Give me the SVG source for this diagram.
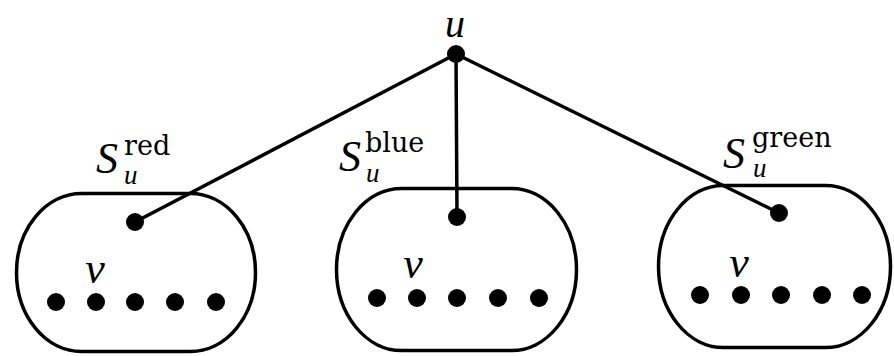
<svg xmlns="http://www.w3.org/2000/svg" width="894" height="356" viewBox="0 0 894 356">
<style>
.blob{fill:none;stroke:#000;stroke-width:3.5}
.edge{stroke:#000;stroke-width:3.5;fill:none}
.dot{fill:#000}
.m{font-family:'Liberation Serif','Times New Roman','DejaVu Serif',serif;font-style:italic;font-size:44px;fill:#000}
.top{font-size:40px}
.sup{font-family:'DejaVu Serif','Liberation Serif',serif;font-size:27px;fill:#000}
.sub{font-family:'Liberation Serif','Times New Roman','DejaVu Serif',serif;font-style:italic;font-size:27px;fill:#000}
</style>
<rect width="894" height="356" fill="#fff"/>
<g id="connectors">
<line class="edge" x1="456" y1="54" x2="135" y2="222"/>
<line class="edge" x1="456" y1="54" x2="457" y2="217"/>
<line class="edge" x1="456" y1="54" x2="779" y2="213"/>
</g>
<g id="root">
<circle class="dot" cx="456" cy="54" r="9"/>
<text class="m top" x="455" y="37" text-anchor="middle">u</text>
</g>
<g id="set-red">
<rect class="blob" x="16.5" y="193.5" width="239" height="158" rx="65" ry="79"/>
<circle class="dot" cx="135" cy="222" r="9"/>
<text class="m" x="95" y="283" text-anchor="middle">v</text>
<circle class="dot" cx="56" cy="302" r="9"/>
<circle class="dot" cx="96" cy="302" r="9"/>
<circle class="dot" cx="135" cy="302" r="9"/>
<circle class="dot" cx="175" cy="302" r="9"/>
<circle class="dot" cx="216" cy="302" r="9"/>
<text class="m" x="96" y="173">S</text>
<text class="sup" x="124" y="155">red</text>
<text class="sub" x="124" y="184">u</text>
</g>
<g id="set-blue">
<rect class="blob" x="336.5" y="188.5" width="240" height="162" rx="65" ry="81"/>
<circle class="dot" cx="457" cy="217" r="9"/>
<text class="m" x="413" y="278" text-anchor="middle">v</text>
<circle class="dot" cx="377" cy="298" r="9"/>
<circle class="dot" cx="417" cy="298" r="9"/>
<circle class="dot" cx="457" cy="298" r="9"/>
<circle class="dot" cx="498" cy="298" r="9"/>
<circle class="dot" cx="539" cy="298" r="9"/>
<text class="m" x="339" y="171">S</text>
<text class="sup" x="365" y="152">blue</text>
<text class="sub" x="366" y="182">u</text>
</g>
<g id="set-green">
<rect class="blob" x="658.5" y="185.5" width="232" height="162" rx="65" ry="81"/>
<circle class="dot" cx="779" cy="213" r="9"/>
<text class="m" x="739" y="277" text-anchor="middle">v</text>
<circle class="dot" cx="700" cy="295" r="9"/>
<circle class="dot" cx="741" cy="295" r="9"/>
<circle class="dot" cx="781" cy="295" r="9"/>
<circle class="dot" cx="822" cy="295" r="9"/>
<circle class="dot" cx="862" cy="295" r="9"/>
<text class="m" x="723" y="168">S</text>
<text class="sup" x="752" y="147">green</text>
<text class="sub" x="753" y="177">u</text>
</g>
</svg>
